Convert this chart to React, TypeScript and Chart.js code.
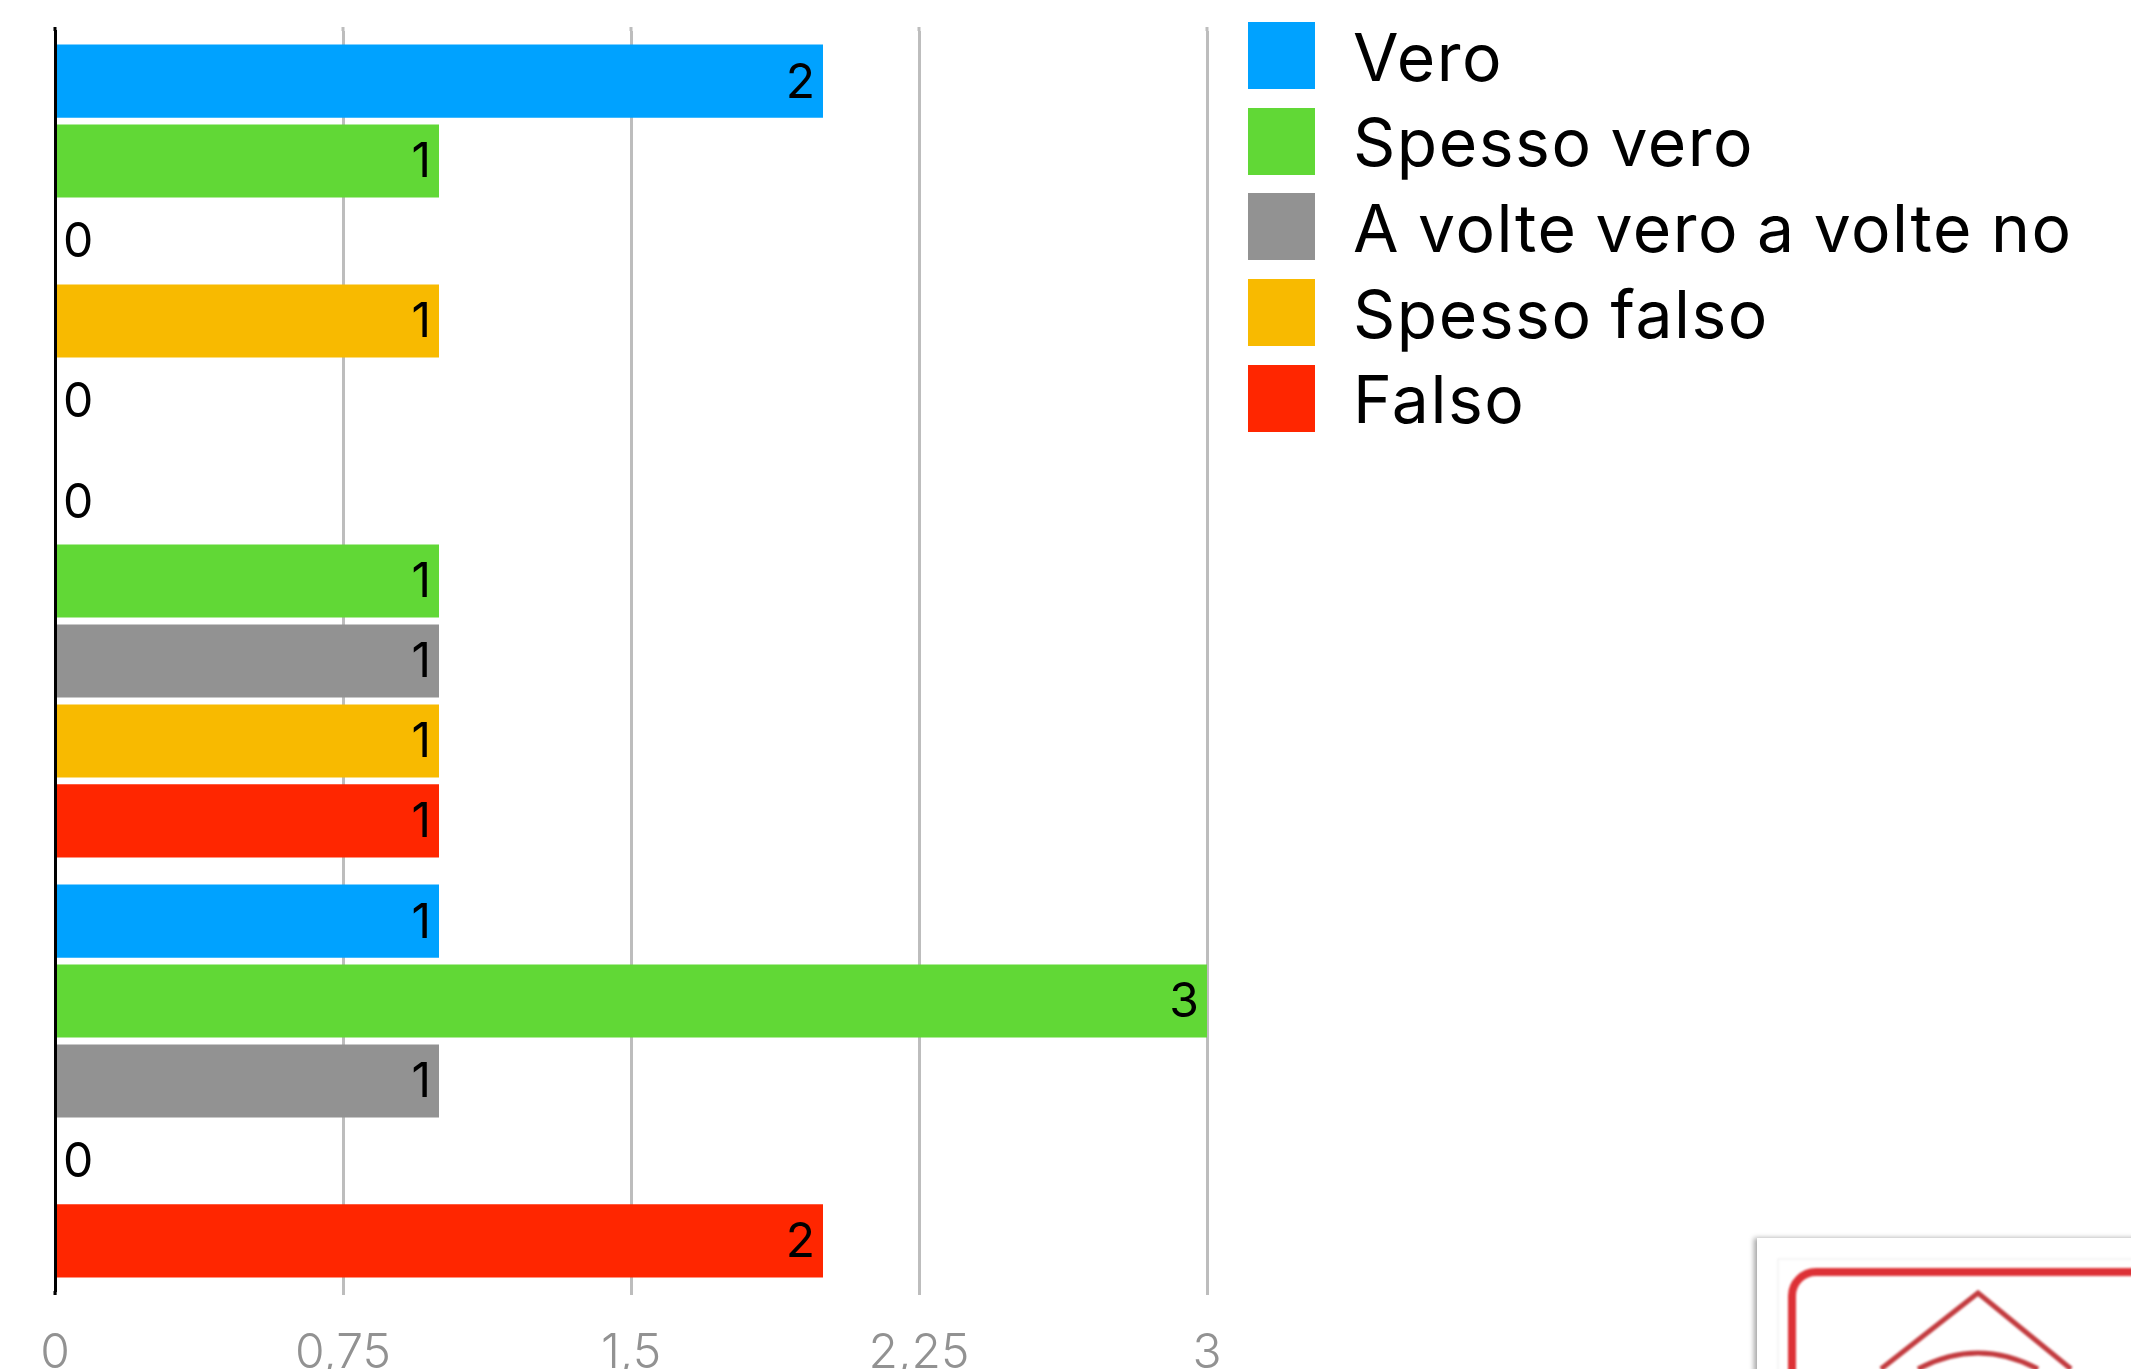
import React, { useEffect, useRef } from "react";
import { Chart, registerables } from "chart.js";

Chart.register(...registerables);

const categories = ["A", "B", "C"];
const seriesNames = ["Vero", "Spesso vero", "A volte vero a volte no", "Spesso falso", "Falso"];
const seriesColors = ["#00a2ff", "#61d836", "#929292", "#f8ba00", "#ff2600"];
const vero = [2, 0, 1];
const spessoVero = [1, 1, 3];
const aVolte = [0, 1, 1];
const spessoFalso = [1, 1, 0];
const falso = [0, 1, 2];
const seriesValues = [vero, spessoVero, aVolte, spessoFalso, falso];
const tickValues = [0, 0.75, 1.5, 2.25, 3];

const FONT = "Inter";
const GRID = "#bdbdbd";

const valueLabels = {
  id: "valueLabels",
  afterDatasetsDraw(chart: any) {
    const ctx = chart.ctx;
    ctx.save();
    ctx.font = `400 48px ${FONT}`;
    ctx.fillStyle = "#000";
    ctx.textBaseline = "middle";
    chart.data.datasets.forEach((ds: any, i: number) => {
      chart.getDatasetMeta(i).data.forEach((bar: any, j: number) => {
        const v = ds.data[j];
        if (v === 0) {
          ctx.textAlign = "left";
          ctx.fillText(String(v), bar.base + 8, bar.y + 2);
        } else {
          ctx.textAlign = "right";
          ctx.fillText(String(v), bar.x - 8, bar.y + 2);
        }
      });
    });
    ctx.restore();
  },
};

const topOverhang = {
  id: "topOverhang",
  beforeDatasetsDraw(chart: any) {
    const { ctx, scales, chartArea } = chart;
    ctx.save();
    ctx.fillStyle = GRID;
    tickValues.slice(1).forEach((t) => {
      const x = scales.x.getPixelForValue(t);
      ctx.fillRect(x - 1.5, chartArea.top - 4, 3, 4);
    });
    ctx.fillStyle = "#000";
    ctx.fillRect(scales.x.getPixelForValue(0) - 1.5, chartArea.top - 4, 3, 4);
    ctx.fillRect(scales.x.getPixelForValue(0) - 1.5, chartArea.bottom, 3, 4);
    ctx.restore();
  },
};

export default function App() {
  const ref = useRef<HTMLCanvasElement>(null);
  useEffect(() => {
    document.body.style.margin = "0";
    document.body.style.background = "#fff";
    const chart = new Chart(ref.current!, {
      type: "bar",
      data: {
        labels: categories,
        datasets: seriesNames.map((name, i) => ({
          label: name,
          data: seriesValues[i],
          backgroundColor: seriesColors[i],
          categoryPercentage: 0.952,
          barPercentage: 0.915,
        })),
      },
      plugins: [valueLabels, topOverhang],
      options: {
        indexAxis: "y",
        animation: false,
        responsive: false,
        layout: { padding: { left: 47, right: 924, top: 31, bottom: 0 } },
        plugins: { legend: { display: false }, tooltip: { enabled: false } },
        scales: {
          y: {
            ticks: { display: false },
            grid: { display: false },
            border: { color: "#000", width: 3, z: 1 },
          },
          x: {
            min: 0,
            max: 3,
            afterBuildTicks: (s: any) => {
              s.ticks = tickValues.map((value) => ({ value }));
            },
            afterFit: (s: any) => {
              s.height = 78;
            },
            grid: { color: GRID, lineWidth: 3, tickLength: 4, drawOnChartArea: true },
            border: { display: false },
            ticks: {
              color: "#929292",
              padding: 30,
              maxRotation: 0,
              font: { family: FONT, size: 48, weight: "300" },
              callback: (v: any) => String(v).replace(".", ","),
            },
          },
        },
      } as any,
    });
    return () => chart.destroy();
  }, []);

  return (
    <div style={{ position: "relative", width: 2131, height: 1369, overflow: "hidden", background: "#fff" }}>
      <canvas ref={ref} width={2131} height={1369} style={{ display: "block", width: 2131, height: 1369 }} />
      {seriesNames.map((name, i) => (
        <div
          key={name}
          style={{ position: "absolute", left: 1248, top: 22 + i * 85.7, height: 67, display: "flex", alignItems: "center" }}
        >
          <div style={{ width: 67, height: 67, background: seriesColors[i], marginRight: 38 }} />
          <div style={{ font: `400 66px ${FONT}`, color: "#000", whiteSpace: "nowrap", letterSpacing: "1.5px", wordSpacing: "-2px", position: "relative", top: 1 }}>{name}</div>
        </div>
      ))}
      <div
        style={{
          position: "absolute",
          left: 1757,
          top: 1238,
          width: 400,
          height: 160,
          background: "#fff",
          boxShadow: "-3px 0 5px rgba(0,0,0,.35)",
        }}
      >
        <svg width="400" height="160" style={{ display: "block", filter: "blur(0.8px)" }}>
          <rect x="21" y="21" width="500" height="300" fill="none" stroke="#eeeeee" strokeWidth="1" />
          <rect x="35" y="34" width="500" height="300" rx="24" fill="none" stroke="#dd3136" strokeWidth="8" />
          <path d="M124 131 L221 55 L314 131" fill="none" stroke="#c23a3e" strokeWidth="5" />
          <path d="M161 131 Q221 99 281 131" fill="none" stroke="#c23a3e" strokeWidth="5" />
        </svg>
      </div>
    </div>
  );
}
